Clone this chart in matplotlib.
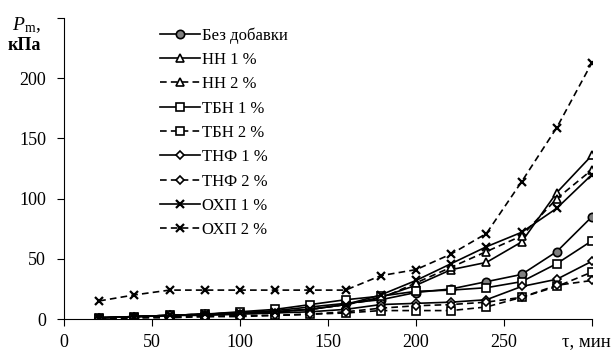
import numpy as np
import matplotlib
matplotlib.use('Agg')
import matplotlib.pyplot as plt

plt.rcParams['font.family'] = ['Liberation Serif', 'DejaVu Serif']
plt.rcParams['mathtext.fontset'] = 'custom'
plt.rcParams['mathtext.rm'] = 'Liberation Serif'
plt.rcParams['mathtext.it'] = 'Liberation Serif:italic'

# Данные: время, мин и давление, кПа
tau = [20, 40, 60, 80, 100, 120, 140, 160, 180, 200, 220, 240, 260, 280, 300]

bez = [1, 2, 3, 4, 5, 7, 10, 13, 16, 22, 25, 31, 37, 56, 85]
nn1 = [1, 2, 3, 4, 5, 6, 8, 12, 18, 28, 41, 47, 64, 105, 136]
nn2 = [1, 2, 3, 4, 5, 6, 8, 12, 17, 30, 43, 56, 69, 100, 124]
tbn1 = [1, 2, 3, 4, 6, 8, 12, 16, 19, 23, 24, 26, 31, 46, 65]
tbn2 = [0, 1, 2, 2, 3, 3, 4, 5, 7, 7, 7, 10, 18, 27, 39]
tnf1 = [1, 2, 3, 3, 4, 5, 6, 8, 12, 13, 14, 16, 27, 33, 48]
tnf2 = [0, 1, 1, 2, 2, 3, 4, 6, 9, 11, 12, 14, 18, 28, 32]
ohp1 = [1, 2, 3, 4, 5, 6, 8, 12, 20, 32, 46, 60, 72, 92, 120]
ohp2 = [15, 20, 24, 24, 24, 24, 24, 24, 36, 41, 54, 71, 114, 159, 213]

labels = ['Без добавки', 'НН 1 %', 'НН 2 %', 'ТБН 1 %', 'ТБН 2 %',
          'ТНФ 1 %', 'ТНФ 2 %', 'ОХП 1 %', 'ОХП 2 %']
series = [bez, nn1, nn2, tbn1, tbn2, tnf1, tnf2, ohp1, ohp2]

# стиль каждой кривой
styles = [
    dict(ls='-', marker='o', mfc='#808080', ms=6, mew=1.2),
    dict(ls='-', marker='^', mfc='white', ms=6, mew=1.2),
    dict(ls='--', marker='^', mfc='white', ms=6, mew=1.2),
    dict(ls='-', marker='s', mfc='white', ms=6, mew=1.2),
    dict(ls='--', marker='s', mfc='white', ms=6, mew=1.2),
    dict(ls='-', marker='D', mfc='white', ms=4.5, mew=1.2),
    dict(ls='--', marker='D', mfc='white', ms=4.5, mew=1.2),
    dict(ls='-', marker='x', mfc='black', ms=6, mew=1.6),
    dict(ls='--', marker='x', mfc='black', ms=6, mew=1.6),
]

fig = plt.figure(figsize=(6.16, 3.51), dpi=100)
ax = fig.add_axes([64 / 616, 32 / 351, 528 / 616, 301 / 351])

for y, lab, st in zip(series, labels, styles):
    ax.plot(tau, y, color='black', lw=1.2, mec='black',
            label=lab, dashes=(4, 2.5) if st['ls'] == '--' else (None, None),
            **{k: v for k, v in st.items() if k != 'ls'})

ax.set_xlim(0, 300)
ax.set_ylim(0, 250)
ax.set_xticks([0, 50, 100, 150, 200, 250, 300])
ax.set_xticklabels(['0', '50', '100', '150', '200', '250', ''])
ax.set_yticks([0, 50, 100, 150, 200, 250])
ax.set_yticklabels(['0', '50', '100', '150', '200', ''])
ax.spines['top'].set_visible(False)
ax.spines['right'].set_visible(False)
ax.tick_params(direction='out', length=5, labelsize=13, width=0.8)
ax.tick_params(axis='y', pad=8)
ax.tick_params(axis='x', pad=6)

ax.legend(loc='upper left', bbox_to_anchor=(0.165, 1.0), frameon=False,
          fontsize=12, labelspacing=0.5, handlelength=2.4,
          handletextpad=0.12, borderaxespad=0.15)

fig.text(0.02, 0.915, r'$P_{\rm m}$,', fontsize=14)
fig.text(0.012, 0.858, 'кПа', fontsize=13, fontweight='bold')
fig.text(0.912, 0.028, 'τ, мин', fontsize=13.5, va='center')

plt.savefig('out.png', dpi=100)
